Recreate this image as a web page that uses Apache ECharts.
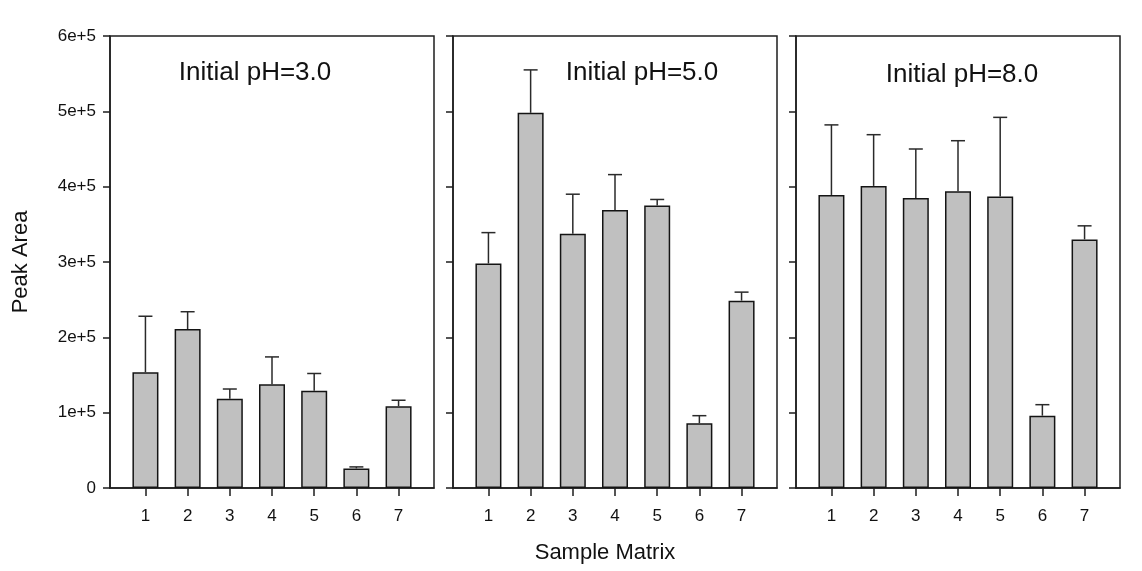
<!DOCTYPE html>
<html>
<head>
<meta charset="utf-8">
<title>Peak Area by Sample Matrix</title>
<script src="https://cdn.jsdelivr.net/npm/echarts@6/dist/echarts.min.js"></script>
<style>
  html, body { margin: 0; padding: 0; background: #ffffff; }
  #chart { width: 1142px; height: 571px; }
</style>
</head>
<body>
<div id="chart"></div>
<script>
// Sample matrices on the x axis
const categories = [1, 2, 3, 4, 5, 6, 7];

// Panel titles
const panelTitles = ['Initial pH=3.0', 'Initial pH=5.0', 'Initial pH=8.0'];

// Mean peak area per matrix, for each initial pH
const meanPH3 = [153600, 211000, 118600, 137600, 129000, 26000, 108500];
const meanPH5 = [298000, 498000, 337600, 369000, 375000, 86000, 248700];
const meanPH8 = [389000, 401000, 385000, 394000, 387000, 96000, 330000];

// Upper error (standard deviation) per matrix
const errPH3 = [74400, 23000, 12800, 36400, 23000, 2000, 8000];
const errPH5 = [41000, 57000, 52400, 47000, 8000, 10000, 11300];
const errPH8 = [93000, 68000, 65000, 67000, 105000, 14600, 18000];

// Y axis tick values
const yTicks = [0, 100000, 200000, 300000, 400000, 500000, 600000];

const means = [meanPH3, meanPH5, meanPH8];
const errs = [errPH3, errPH5, errPH8];

const FONT = '"Liberation Sans", Arial, Helvetica, sans-serif';
const INK = '#1e1e1e';

const panelLeft = [110, 453, 796];
const panelWidth = 324;
const panelTop = 36;
const panelHeight = 452;

function yLabel(v) {
  return v === 0 ? '0' : (v / 100000) + 'e+5';
}

function renderErrorBar(params, api) {
  const x = api.value(0);
  const m = api.value(1);
  const e = api.value(2);
  const base = api.coord([x, m]);
  const top = api.coord([x, m + e]);
  const style = { stroke: '#2a2a2a', lineWidth: 1.5 };
  return {
    type: 'group',
    children: [
      { type: 'line', shape: { x1: base[0], y1: base[1], x2: top[0], y2: top[1] }, style: style },
      { type: 'line', shape: { x1: top[0] - 7, y1: top[1], x2: top[0] + 7, y2: top[1] }, style: style }
    ]
  };
}

const grids = [], xAxes = [], yAxes = [], series = [], graphics = [];

for (let p = 0; p < 3; p++) {
  grids.push({
    left: panelLeft[p], top: panelTop, width: panelWidth, height: panelHeight,
    show: true, borderColor: INK, borderWidth: 1.5, backgroundColor: 'transparent'
  });
  xAxes.push({
    type: 'value', gridIndex: p, min: 0.16, max: 7.84,
    splitLine: { show: false },
    axisLine: { show: true, onZero: false, lineStyle: { color: INK, width: 1.5 } },
    axisTick: { show: true, customValues: categories, length: 8, inside: false, lineStyle: { color: INK, width: 1.5 } },
    axisLabel: { show: true, customValues: categories, margin: 20, color: '#111', fontSize: 17, fontFamily: FONT }
  });
  yAxes.push({
    type: 'value', gridIndex: p, min: 0, max: 600000, interval: 100000,
    splitLine: { show: false },
    axisLine: { show: true, lineStyle: { color: INK, width: 1.5 } },
    axisTick: { show: true, length: 7, inside: false, lineStyle: { color: INK, width: 1.5 } },
    axisLabel: {
      show: p === 0, margin: 14, color: '#111', fontSize: 17, fontFamily: FONT,
      customValues: yTicks,
      formatter: yLabel
    }
  });
  series.push({
    type: 'bar', xAxisIndex: p, yAxisIndex: p,
    barWidth: 26,
    itemStyle: { color: '#c0c0c0', borderColor: '#141414', borderWidth: 1.5 },
    data: categories.map((c, i) => [c, means[p][i]]),
    z: 2
  });
  series.push({
    type: 'custom', xAxisIndex: p, yAxisIndex: p,
    renderItem: renderErrorBar,
    encode: { x: 0, y: 1 },
    data: categories.map((c, i) => [c, means[p][i], errs[p][i]]),
    z: 3
  });
}

const titleX = [255, 642, 962];
const titleY = [73, 73, 75];
for (let p = 0; p < 3; p++) {
  graphics.push({
    type: 'text', x: titleX[p], y: titleY[p],
    style: { text: panelTitles[p], fill: '#111', font: '26px ' + FONT, textAlign: 'center', textVerticalAlign: 'middle' }
  });
}
graphics.push({
  type: 'text', x: 21, y: 262, rotation: Math.PI / 2,
  style: { text: 'Peak Area', fill: '#111', font: '22px ' + FONT, textAlign: 'center', textVerticalAlign: 'middle' }
});
graphics.push({
  type: 'text', x: 605, y: 553,
  style: { text: 'Sample Matrix', fill: '#111', font: '22px ' + FONT, textAlign: 'center', textVerticalAlign: 'middle' }
});

const chart = echarts.init(document.getElementById('chart'), null, { renderer: 'canvas' });
chart.setOption({
  animation: false,
  backgroundColor: '#ffffff',
  grid: grids,
  xAxis: xAxes,
  yAxis: yAxes,
  series: series,
  graphic: graphics
});
</script>
</body>
</html>
